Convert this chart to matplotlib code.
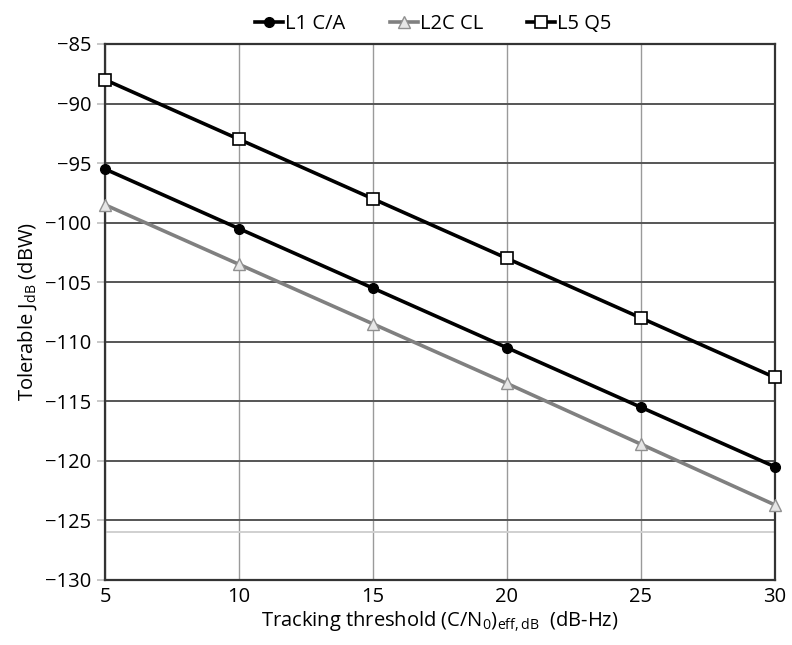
import matplotlib
matplotlib.use("Agg")
import matplotlib.pyplot as plt

plt.rcParams['font.family'] = ['Open Sans', 'DejaVu Sans']
plt.rcParams['mathtext.fontset'] = 'custom'
plt.rcParams['mathtext.rm'] = 'Open Sans'
plt.rcParams['mathtext.it'] = 'Open Sans'

# data
cn0 = [5, 10, 15, 20, 25, 30]
l1_ca = [-95.5, -100.5, -105.5, -110.5, -115.5, -120.5]
l2c_cl = [-98.5, -103.5, -108.5, -113.5, -118.6, -123.7]
l5_q5 = [-88, -93, -98, -103, -108, -113]
y_ticks = [-130, -125, -120, -115, -110, -105, -100, -95, -90, -85]
x_ticks = [5, 10, 15, 20, 25, 30]

fig = plt.figure(figsize=(7.92, 6.45), dpi=100)
ax = fig.add_axes([0.1326, 0.1008, 0.8459, 0.831])

ax.plot(cn0, l1_ca, color='black', lw=2.6, marker='o', ms=7,
        mfc='black', mec='black', label='L1 C/A', clip_on=False, zorder=4)
ax.plot(cn0, l2c_cl, color='#808080', lw=2.6, marker='^', ms=8,
        mfc='#e6e6e6', mec='#909090', label='L2C CL', clip_on=False, zorder=3)
ax.plot(cn0, l5_q5, color='black', lw=2.6, marker='s', ms=9,
        mfc='white', mec='black', mew=1.2, label='L5 Q5', clip_on=False, zorder=5)

ax.set_xlim(5, 30)
ax.set_ylim(-130, -85)
ax.set_xticks(x_ticks)
ax.set_yticks(y_ticks)
ax.set_yticklabels([f'\u2212{abs(v)}' for v in y_ticks])

# grid: darker horizontal lines, lighter vertical lines
ax.yaxis.grid(True, color='#555555', lw=1.4)
ax.xaxis.grid(True, color='#9a9a9a', lw=1.0)
ax.axhline(-126, color='#d0d0d0', lw=1.4, zorder=1)
ax.set_axisbelow(True)

for s in ax.spines.values():
    s.set_color('#333333')
    s.set_linewidth(1.6)

ax.tick_params(axis='y', length=6, width=1.4, color='#c8c8c8', labelsize=14.5, pad=4)
ax.tick_params(axis='x', length=0, labelsize=14.5, pad=5)

ax.set_xlabel(r'Tracking threshold (C/N$_0$)$_{\mathrm{eff,dB}}$  (dB-Hz)', fontsize=14.5, labelpad=2)
ax.set_ylabel(r'Tolerable J$_{\mathrm{dB}}$ (dBW)', fontsize=14.5, labelpad=4)

ax.legend(loc='lower center', bbox_to_anchor=(0.49, 1.0), ncol=3, frameon=False,
          fontsize=14.5, handlelength=1.4, handletextpad=0.1, columnspacing=2.2,
          borderaxespad=0.1)

fig.savefig('out.png', dpi=100)
